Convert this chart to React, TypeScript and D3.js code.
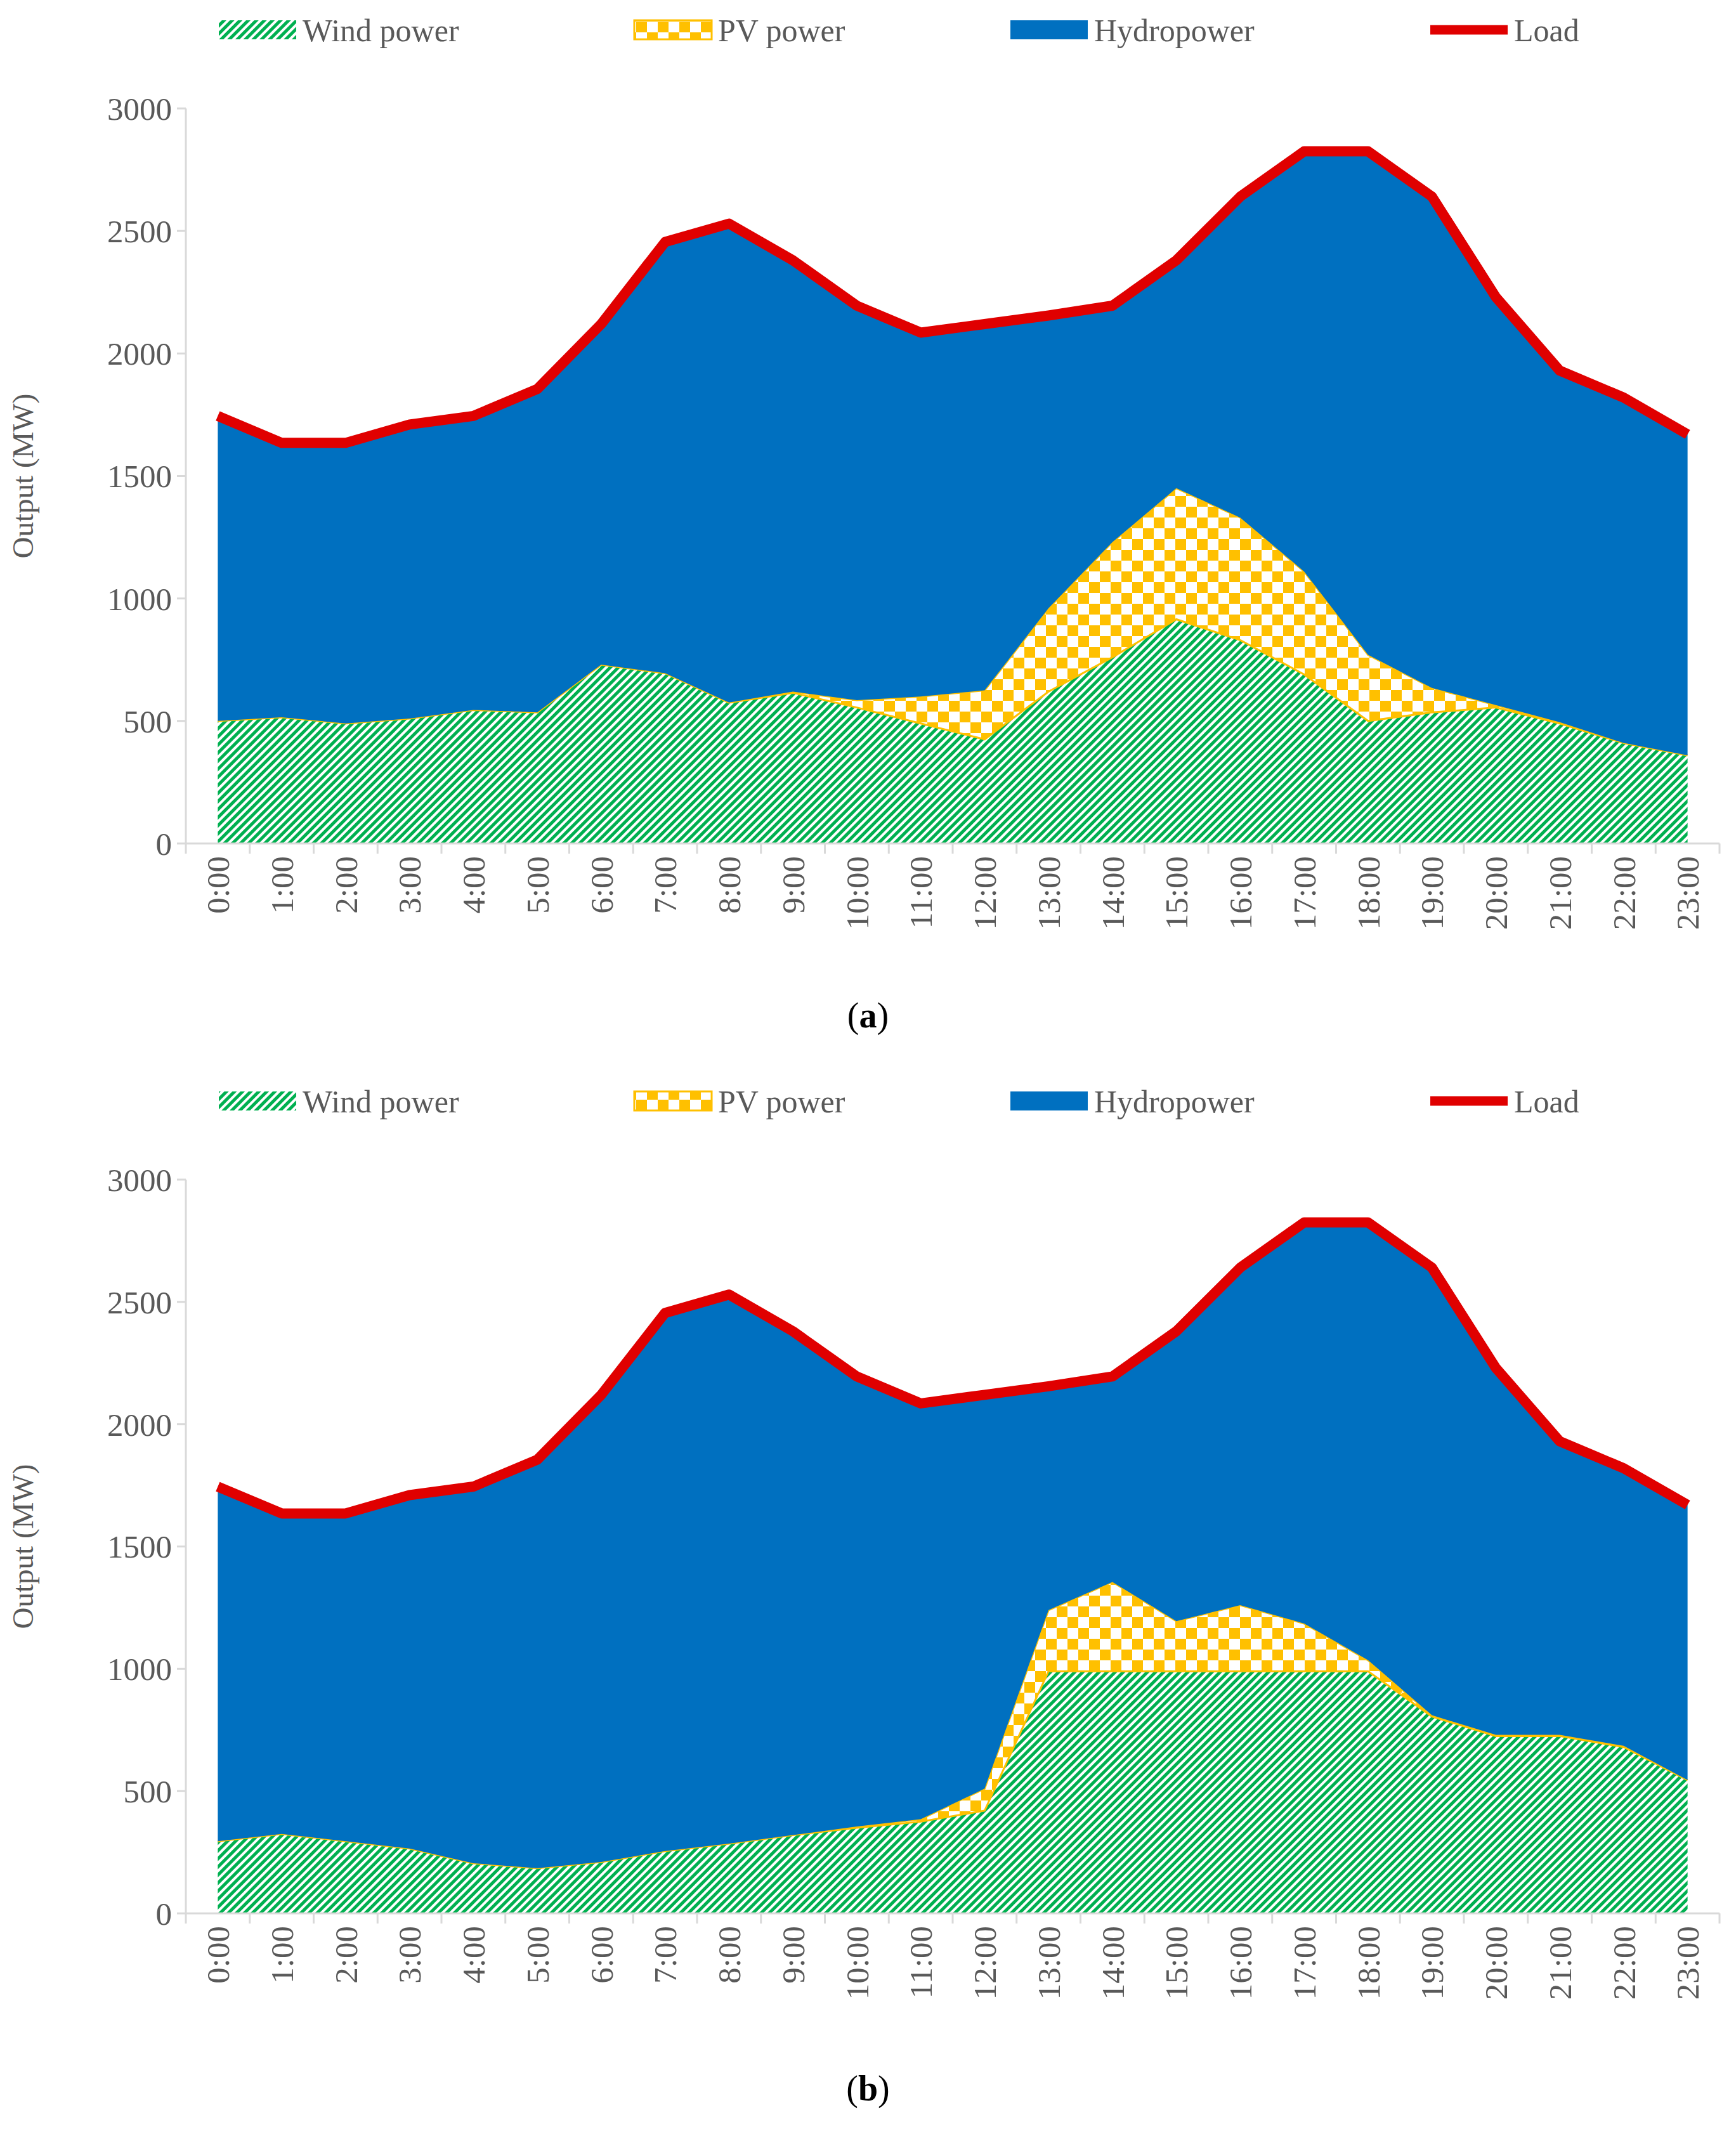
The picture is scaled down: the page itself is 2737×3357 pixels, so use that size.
import React from 'react';
import * as d3 from 'd3';

const hours = d3.range(24).map(h => `${h}:00`);
const load = [1745, 1635, 1635, 1710, 1745, 1855, 2120, 2455, 2530, 2380, 2195, 2085, 2120, 2155, 2195, 2380, 2640, 2825, 2825, 2640, 2230, 1930, 1820, 1670];
const windA = [500, 515, 490, 510, 545, 535, 730, 695, 575, 615, 555, 490, 425, 620, 760, 915, 830, 690, 500, 535, 555, 490, 410, 360];
const pvA = [0, 0, 0, 0, 0, 0, 0, 0, 0, 5, 30, 110, 200, 340, 470, 535, 500, 420, 270, 100, 10, 5, 0, 0];
const windB = [295, 325, 295, 265, 205, 185, 210, 255, 285, 320, 350, 375, 420, 990, 990, 990, 990, 990, 990, 805, 725, 725, 680, 545];
const pvB = [0, 0, 0, 0, 0, 0, 0, 0, 0, 0, 5, 10, 90, 250, 365, 205, 270, 195, 45, 5, 5, 5, 5, 0];
const yTicks = [0, 500, 1000, 1500, 2000, 2500, 3000];

const W = 2737, H = 3357;
const left = 293, right = 2711;
const font = '"Liberation Serif", serif';
const grey = '#595959';

const Panel: React.FC<{ top: number; bottom: number; wind: number[]; pv: number[]; legendY: number; capY: number; label: string; id: string }> =
  ({ top, bottom, wind, pv, legendY, capY, label, id }) => {
    const x = d3.scaleBand<string>().domain(hours).range([left, right]);
    const cx = (i: number) => x(hours[i])! + x.bandwidth() / 2;
    const y = d3.scaleLinear().domain([0, 3000]).range([bottom, top]);
    const pvTop = wind.map((w, i) => w + pv[i]);
    const area = d3.area<number>().x((_, i) => cx(i));
    const windPath = area.y0(y(0)).y1(d => y(d))(wind)!;
    const pvPath = d3.area<number>().x((_, i) => cx(i)).y0((_, i) => y(wind[i])).y1(d => y(d))(pvTop)!;
    const hydroPath = d3.area<number>().x((_, i) => cx(i)).y0((_, i) => y(pvTop[i])).y1(d => y(d))(load)!;
    const loadPath = d3.line<number>().x((_, i) => cx(i)).y(d => y(d))(load)!;
    const legend = [
      { name: 'Wind power', sx: 345, fill: `url(#wind${id})` },
      { name: 'PV power', sx: 1000, fill: `url(#pv${id})` },
      { name: 'Hydropower', sx: 1593, fill: '#0070C0' },
      { name: 'Load', sx: 2255, fill: 'line' },
    ];
    return (
      <g>
        <defs>
          <pattern id={`wind${id}`} width={9} height={9} patternUnits="userSpaceOnUse" patternTransform="rotate(45)">
            <rect width={9} height={9} fill="#fff" />
            <rect width={5} height={9} fill="#00B050" />
          </pattern>
          <pattern id={`pv${id}`} width={34} height={34} patternUnits="userSpaceOnUse">
            <rect width={34} height={34} fill="#FFC000" />
            <rect width={17} height={17} fill="#fff" />
            <rect x={17} y={17} width={17} height={17} fill="#fff" />
          </pattern>
        </defs>
        {legend.map(l => (
          <g key={l.name}>
            {l.fill === 'line'
              ? <line x1={l.sx} x2={l.sx + 122} y1={legendY} y2={legendY} stroke="#E00000" strokeWidth={15} />
              : <rect x={l.sx} y={legendY - 15} width={122} height={30} fill={l.fill} stroke={l.fill.startsWith('url(#pv') ? '#FFC000' : 'none'} strokeWidth={3} />}
            <text x={l.sx + 132} y={legendY} dy="0.35em" fontSize={50} fill={grey}>{l.name}</text>
          </g>
        ))}
        <path d={windPath} fill={`url(#wind${id})`} />
        <path d={pvPath} fill={`url(#pv${id})`} stroke="#FFC000" strokeWidth={3} />
        <path d={hydroPath} fill="#0070C0" />
        <path d={loadPath} fill="none" stroke="#E00000" strokeWidth={16} strokeLinejoin="round" />
        <line x1={left} x2={left} y1={top} y2={bottom} stroke="#D9D9D9" strokeWidth={3} />
        <line x1={left} x2={right} y1={bottom} y2={bottom} stroke="#D9D9D9" strokeWidth={3} />
        {yTicks.map(t => (
          <g key={t}>
            <line x1={left - 14} x2={left} y1={y(t)} y2={y(t)} stroke="#D9D9D9" strokeWidth={3} />
            <text x={left - 22} y={y(t)} dy="0.35em" textAnchor="end" fontSize={51} fill={grey}>{t}</text>
          </g>
        ))}
        {hours.map((h, i) => (
          <g key={h}>
            <line x1={x(h)!} x2={x(h)!} y1={bottom} y2={bottom + 16} stroke="#D9D9D9" strokeWidth={3} />
            <text transform={`translate(${cx(i)},${bottom + 20}) rotate(-90)`} dy="0.35em" textAnchor="end" fontSize={51} fill={grey}>{h}</text>
          </g>
        ))}
        <line x1={right} x2={right} y1={bottom} y2={bottom + 16} stroke="#D9D9D9" strokeWidth={3} />
        <text transform={`translate(52,${(top + bottom) / 2}) rotate(-90)`} textAnchor="middle" fontSize={47} fill={grey}>Output (MW)</text>
        <text x={W / 2} y={capY} textAnchor="middle" fontSize={56} fill="#000">
          (<tspan fontWeight="bold">{label}</tspan>)
        </text>
      </g>
    );
  };

export default function App() {
  return (
    <svg width={W} height={H} style={{ position: 'absolute', left: 0, top: 0, background: '#fff' }} fontFamily={font}>
      <rect width={W} height={H} fill="#fff" />
      <Panel id="a" top={171} bottom={1330} wind={windA} pv={pvA} legendY={47} capY={1620} label="a" />
      <Panel id="b" top={1860} bottom={3017} wind={windB} pv={pvB} legendY={1736} capY={3312} label="b" />
    </svg>
  );
}
